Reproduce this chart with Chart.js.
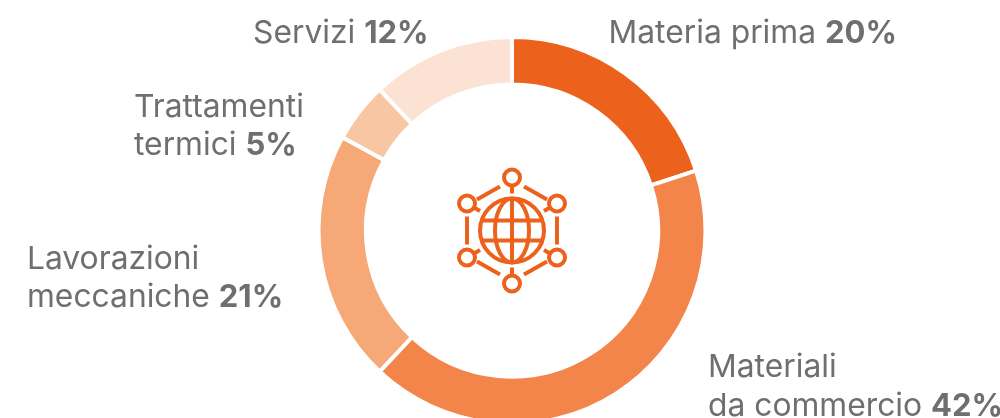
<!DOCTYPE html>
<html>
<head>
<meta charset="utf-8">
<style>
  html, body { margin: 0; padding: 0; background: #fff; overflow: hidden; }
  #wrap { position: relative; width: 1000px; height: 418px; overflow: hidden; }
  canvas { position: absolute; left: 0; top: 0; }
</style>
<script src="https://cdn.jsdelivr.net/npm/chart.js@4"></script>
</head>
<body>
<div id="wrap"><canvas id="costi" width="1024" height="461"></canvas></div>
<script>
const categories = ['Materia prima', 'Materiali da commercio', 'Lavorazioni meccaniche', 'Trattamenti termici', 'Servizi'];
const values = [20, 42, 21, 5, 12];
const sliceColors = ['#ec611c', '#f3854b', '#f6a876', '#f9c6a4', '#fce2d3'];
// how each category wraps on the picture
const labelLines = [
  ['Materia prima'],
  ['Materiali', 'da commercio'],
  ['Lavorazioni', 'meccaniche'],
  ['Trattamenti', 'termici'],
  ['Servizi']
];
const labelSpots = [[608.5, 43], [708, 377], [27, 268.5], [134, 116.5], [253, 42.5]];

const textColor = '#6f6f6e';
const fontSize = 31.8;
const boldSize = 31;
const lineGap = 38.5;

const sliceLabels = {
  id: 'sliceLabels',
  afterDraw(chart) {
    const ctx = chart.ctx;
    ctx.save();
    ctx.fillStyle = textColor;
    ctx.textBaseline = 'alphabetic';
    ctx.textAlign = 'left';
    labelLines.forEach((lines, i) => {
      const x = labelSpots[i][0];
      const y = labelSpots[i][1];
      lines.forEach((line, n) => {
        const yy = y + n * lineGap;
        ctx.font = '400 ' + fontSize + 'px Inter';
        ctx.fillText(line, x, yy);
        if (n === lines.length - 1) {
          const w = ctx.measureText(line + ' ').width;
          ctx.font = '700 ' + boldSize + 'px Inter';
          ctx.fillText(values[i] + '%', x + w, yy);
        }
      });
    });
    ctx.restore();
  }
};

// globe + network icon in the hole
const centerIcon = {
  id: 'centerIcon',
  afterDraw(chart) {
    const ctx = chart.ctx;
    const c = chart.getDatasetMeta(0).data[0];
    const cx = c.x, cy = c.y;
    ctx.save();
    ctx.translate(cx, cy);
    ctx.strokeStyle = '#ec611c';
    ctx.lineWidth = 4;
    ctx.lineCap = 'butt';

    const line = (a, b, d, e) => {
      ctx.beginPath(); ctx.moveTo(a, b); ctx.lineTo(d, e); ctx.stroke();
    };
    const ring = (x, y, r) => {
      ctx.beginPath(); ctx.arc(x, y, r, 0, Math.PI * 2); ctx.stroke();
    };

    // globe
    ring(0, 0, 32);
    ctx.beginPath(); ctx.ellipse(0, 0, 17, 32, 0, 0, Math.PI * 2); ctx.stroke();
    line(0, -32, 0, 32);
    line(-29, -10, 29, -10);
    line(-29, 10, 29, 10);

    // nodes
    [[0, -53], [45, -27], [45, 27], [0, 53], [-45, 27], [-45, -27]].forEach(p => ring(p[0], p[1], 8));

    // stems from nodes to globe
    line(0, -45, 0, -37);
    line(0, 45, 0, 37);
    line(38, -23, 32, -19.5);
    line(-38, -23, -32, -19.5);
    line(38, 23, 32, 19.5);
    line(-38, 23, -32, 19.5);

    // hexagon edges
    line(12, -44, 35, -31);
    line(-12, -44, -35, -31);
    line(12, 44, 35, 31);
    line(-12, 44, -35, 31);
    line(45, -14, 45, 14);
    line(-45, -14, -45, 14);
    ctx.restore();
  }
};

new Chart(document.getElementById('costi'), {
  type: 'doughnut',
  data: {
    labels: categories,
    datasets: [{
      data: values,
      backgroundColor: sliceColors,
      borderColor: '#ffffff',
      borderWidth: 4,
      borderAlign: 'center'
    }]
  },
  options: {
    responsive: false,
    animation: false,
    radius: 193.5,
    cutout: '75.5%',
    plugins: {
      legend: { display: false },
      tooltip: { enabled: false }
    }
  },
  plugins: [sliceLabels, centerIcon]
});
</script>
</body>
</html>
